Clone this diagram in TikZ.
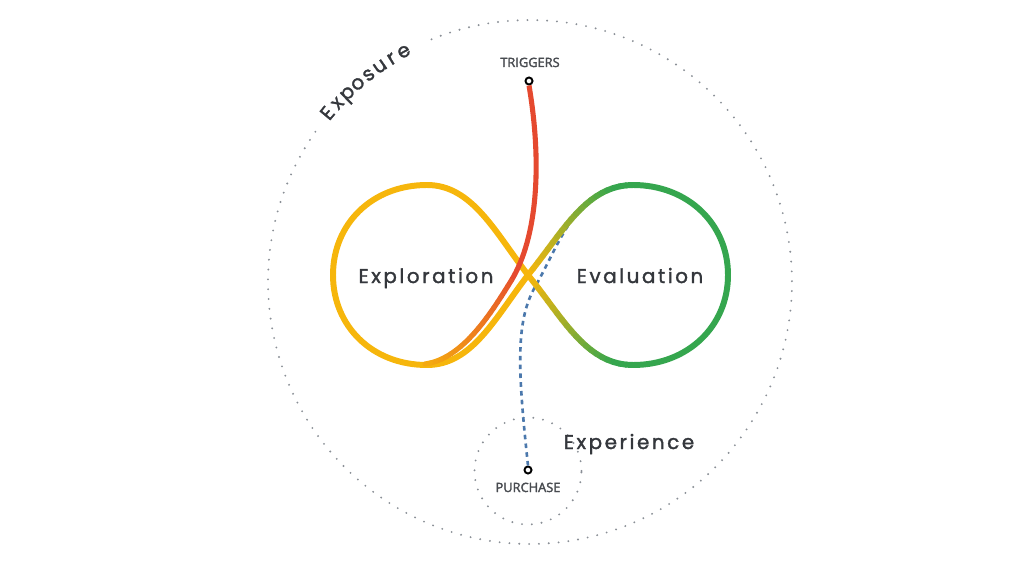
\documentclass[tikz,border=0pt]{standalone}
\usepackage{fontspec}
\setmainfont{Poppins}
\newfontfamily\stagefont[LetterSpace=13, FakeBold=1.6]{Poppins}
\newfontfamily\pointfont[FakeBold=2.4]{Open Sans}
\usetikzlibrary{calc,positioning}

\definecolor{yellowG}{HTML}{F6B60C}
\definecolor{greenG}{HTML}{35A64E}
\definecolor{redG}{HTML}{E5492F}
\definecolor{blueG}{HTML}{4B78AC}
\definecolor{dotG}{HTML}{8A8F96}
\definecolor{inkG}{HTML}{34373C}

\begin{document}
\begin{tikzpicture}[x=0.02cm,y=0.02cm,
  stage/.style={font=\stagefont\fontsize{11.3}{13}\selectfont, text=inkG, inner sep=0pt},
  point/.style={font=\pointfont\fontsize{7.3}{9}\selectfont, text=inkG!90, inner sep=0pt},
  pointdot/.style={circle, draw=black, line width=1.1pt, fill=white, inner sep=0pt, minimum size=4pt},
  dotline/.style={dotG, line width=1.2pt, line cap=round, dash pattern=on 0pt off 5.6pt},
  loopline/.style={line width=3.4pt, line cap=round},
  pathline/.style={line width=2.9pt}]
\useasboundingbox (0,0) rectangle (1024,562);
\coordinate (c) at (530,280);
\coordinate (x) at (528,287);

% exposure and experience rings
\draw[dotline] (c) ++(145:5.24cm) arc[start angle=145, end angle=473, radius=5.24cm];
\draw[dotline] (528,91) circle[radius=1.07cm];

% purchase route
\node[pointdot] (purch) at (528,92) {};
\draw[blueG, line width=1.5pt, dash pattern=on 2.6pt off 2.4pt] (purch.north)
  .. controls (518,190) and (515,240) .. (535,275)
  .. controls (552,305) and (565,340) .. (585,356);

% the loop
\draw[loopline, yellowG] (x) .. controls (495,330) and (472,377) .. (427,377)
  .. controls (372,377) and (333,338) .. (333,287)
  .. controls (333,236) and (372,197) .. (427,197)
  .. controls (472,197) and (495,244) .. (x);
\draw[loopline, greenG] (633,377) .. controls (688,377) and (728,338) .. (728,287)
  .. controls (728,236) and (688,197) .. (633,197);
\path (x) .. controls (563,330) and (586,377) .. (633,377)
  \foreach \n [evaluate=\n as \q using \n/20] in {0,...,20} {coordinate[pos=\q] (up\n)};
\path (x) .. controls (563,244) and (586,197) .. (633,197)
  \foreach \n [evaluate=\n as \q using \n/20] in {0,...,20} {coordinate[pos=\q] (dn\n)};
\foreach \n [evaluate=\n as \m using {int(\n+1)}, evaluate=\n as \w using {int(max(0,100-6*\n))}] in {0,...,19}{
  \draw[loopline, yellowG!\w!greenG] (up\n) -- (up\m);
  \draw[loopline, yellowG!\w!greenG] (dn\n) -- (dn\m);
}

% trigger route
\node[pointdot] (trig) at (529,481) {};
\draw[pathline, redG] (trig.south) .. controls (542,400) and (538,325) .. (511,281);
\path (511,281) .. controls (490,247) and (462,203) .. (425,198)
  \foreach \n [evaluate=\n as \q using \n/20] in {0,...,20} {coordinate[pos=\q] (rd\n)};
\foreach \n [evaluate=\n as \m using {int(\n+1)}, evaluate=\n as \w using {int(12+4*\n)}] in {0,...,19}
  \draw[pathline, line cap=round, yellowG!\w!redG] (rd\n) -- (rd\m);

% labels
\node[point, anchor=base] (trigtext) at (530,495) {TRIGGERS};
\node[point, anchor=base] (purchtext) at (528,70) {PURCHASE};
\node[stage, anchor=base] (explore) at (426,279) {Exploration};
\node[stage, anchor=base] (evaluate) at (640,279) {Evaluation};
\node[stage, anchor=base] (experience) at (629,113) {Experience};
\foreach \ch [count=\k] in {E,x,p,o,s,u,r,e}{
  \pgfmathsetmacro\a{140.2-(\k-1)*3.07}
  \node[stage, anchor=base, rotate=\a-90] (expo\k) at ($(c)+(\a:257)$) {\ch};
}
\end{tikzpicture}
\end{document}
